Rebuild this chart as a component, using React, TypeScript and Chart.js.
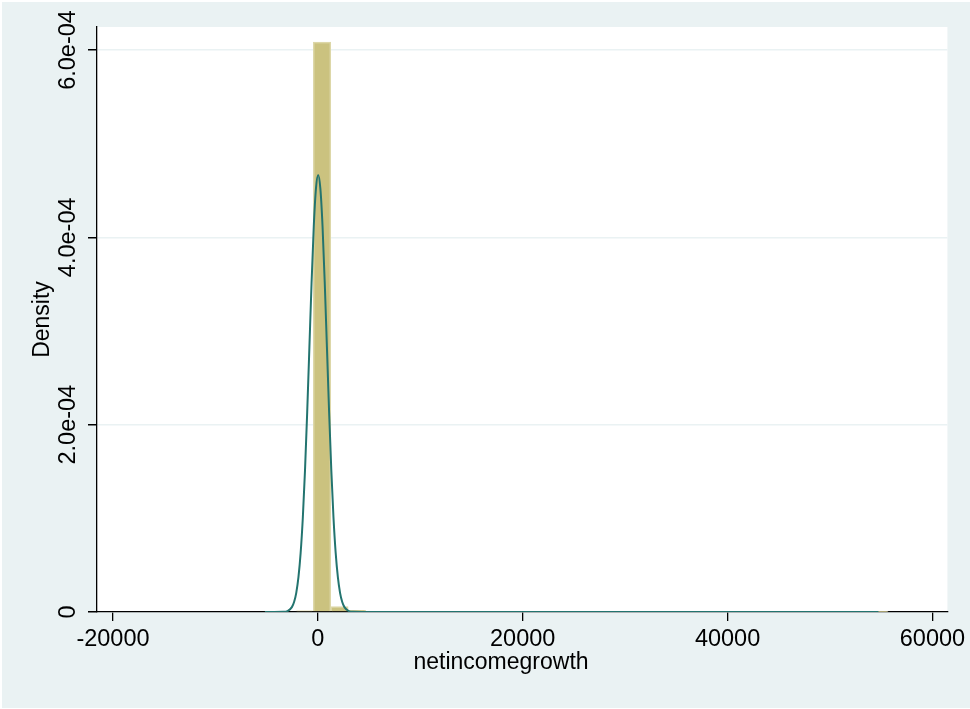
import { useEffect, useRef } from 'react';
import { Chart, registerables } from 'chart.js';

Chart.register(...registerables);

// Histogram bins of netincomegrowth (density scale)
const binStart = -5540;
const binWidth = 1700;
const binDensity = [
  0, 0, 1.3e-6, 6.085e-4, 5.7e-6, 1.8e-6, 0.6e-6, 0.3e-6, 0.2e-6, 0,
  0, 0, 0, 0, 0, 0, 0, 0, 0, 0,
  0, 0, 0, 0, 0, 0, 0, 0, 0, 0,
  0, 0, 0, 0, 0, 0.2e-6,
];

// Overlaid normal density curve
const curveX = [
  -5170, -4245, -3390, -2963, -2535, -2321, -2108, -1894, -1680, -1466,
  -1253, -1039, -825, -611, -398, -184, 30, 244, 458, 671,
  885, 1099, 1313, 1526, 1740, 1954, 2168, 2381, 2595, 3023,
  3450, 4305, 54730,
];
const curveY = [
  0, 0.00002e-4, 0.0016e-4, 0.0102e-4, 0.0518e-4, 0.1062e-4, 0.2048e-4, 0.3713e-4, 0.6315e-4, 1.009e-4,
  1.515e-4, 2.136e-4, 2.83e-4, 3.522e-4, 4.118e-4, 4.522e-4, 4.666e-4, 4.522e-4, 4.118e-4, 3.522e-4,
  2.83e-4, 2.136e-4, 1.515e-4, 1.009e-4, 0.6315e-4, 0.3713e-4, 0.2048e-4, 0.1062e-4, 0.0518e-4, 0.0102e-4,
  0.0016e-4, 0.00002e-4, 0,
];

const xTickValues = [-20000, 0, 20000, 40000, 60000];
const xTickLabels = ['-20000', '0', '20000', '40000', '60000'];
const yTickValues = [0, 2e-4, 4e-4, 6e-4];
const yTickLabels = ['0', '2.0e-04', '4.0e-04', '6.0e-04'];
const xTitle = 'netincomegrowth';
const yTitle = 'Density';

const FONT = '"Liberation Sans", Arial, Helvetica, sans-serif';
const W = 970;
const H = 709;

const background = {
  id: 'background',
  beforeDraw(chart: any) {
    const { ctx, chartArea } = chart;
    ctx.save();
    ctx.fillStyle = '#FFFFFF';
    ctx.fillRect(0, 0, W, H);
    ctx.fillStyle = '#EAF2F3';
    ctx.fillRect(2, 2, W - 2, H - 3);
    ctx.fillStyle = '#FFFFFF';
    ctx.fillRect(chartArea.left, chartArea.top, chartArea.right - chartArea.left, chartArea.bottom - chartArea.top);
    ctx.restore();
  },
};

// Vertical (rotated) tick labels on the y axis and the x-axis title
const axisText = {
  id: 'axisText',
  afterDraw(chart: any) {
    const { ctx } = chart;
    const y = chart.scales.y;
    ctx.save();
    ctx.fillStyle = '#000000';
    ctx.font = `23.5px ${FONT}`;
    ctx.textAlign = 'center';
    ctx.textBaseline = 'middle';
    yTickValues.forEach((v, i) => {
      const py = y.getPixelForValue(v);
      ctx.save();
      ctx.translate(69, py);
      ctx.rotate(-Math.PI / 2);
      ctx.fillText(yTickLabels[i], 0, 0);
      ctx.restore();
    });
    ctx.font = `23px ${FONT}`;
    ctx.fillText(xTitle, 501, 663);
    ctx.restore();
  },
};

export default function App() {
  const ref = useRef<HTMLCanvasElement | null>(null);

  useEffect(() => {
    if (!ref.current) return;
    Chart.defaults.font.family = FONT;
    const chart = new Chart(ref.current, {
      type: 'bar',
      data: {
        datasets: [
          {
            type: 'line',
            data: curveX.map((x, i) => ({ x, y: curveY[i] })),
            borderColor: '#23746F',
            borderWidth: 2,
            pointRadius: 0,
            fill: false,
            cubicInterpolationMode: 'monotone',
            order: 1,
          } as any,
          {
            type: 'bar',
            data: binDensity.map((d, i) => ({ x: binStart + binWidth * (i + 0.5), y: d })),
            backgroundColor: '#CBC27F',
            borderColor: '#DDD7A8',
            borderWidth: 1.5,
            barPercentage: 1,
            categoryPercentage: 1,
            grouped: false,
            order: 2,
          } as any,
        ],
      },
      options: {
        responsive: false,
        animation: false,
        devicePixelRatio: 1,
        layout: { padding: { left: 0, top: 27, right: 22, bottom: 0 } },
        plugins: { legend: { display: false }, tooltip: { enabled: false } },
        scales: {
          x: {
            type: 'linear',
            offset: false,
            min: -21561,
            max: 61463,
            afterBuildTicks: (s: any) => {
              s.ticks = xTickValues.map((value) => ({ value }));
            },
            afterFit: (s: any) => {
              s.height = 97;
            },
            ticks: {
              autoSkip: false,
              maxRotation: 0,
              color: '#000000',
              font: { size: 23.5 },
              padding: 4.5,
              callback: (v: any) => xTickLabels[xTickValues.indexOf(Number(v))] ?? String(v),
            },
            grid: {
              offset: false,
              drawOnChartArea: false,
              tickColor: '#000000',
              tickLength: 9,
              lineWidth: 1.3,
            },
            border: { display: true, color: '#000000', width: 1.3 },
            title: { display: false },
          },
          y: {
            type: 'linear',
            min: 0,
            max: 6.245e-4,
            afterBuildTicks: (s: any) => {
              s.ticks = yTickValues.map((value) => ({ value }));
            },
            afterFit: (s: any) => {
              s.width = 97;
            },
            ticks: { display: false },
            grid: {
              color: '#EAF2F3',
              lineWidth: 1.5,
              tickColor: '#000000',
              tickLength: 9,
            },
            border: { display: true, color: '#000000', width: 1.3 },
            title: {
              display: true,
              text: yTitle,
              color: '#000000',
              font: { size: 23 },
              padding: { top: 29, bottom: 0 },
            },
          },
        },
      },
      plugins: [background, axisText],
    } as any);
    return () => chart.destroy();
  }, []);

  return (
    <div style={{ position: 'fixed', left: 0, top: 0, width: W, height: H }}>
      <canvas ref={ref} width={W} height={H} style={{ display: 'block', width: W, height: H }} />
    </div>
  );
}
